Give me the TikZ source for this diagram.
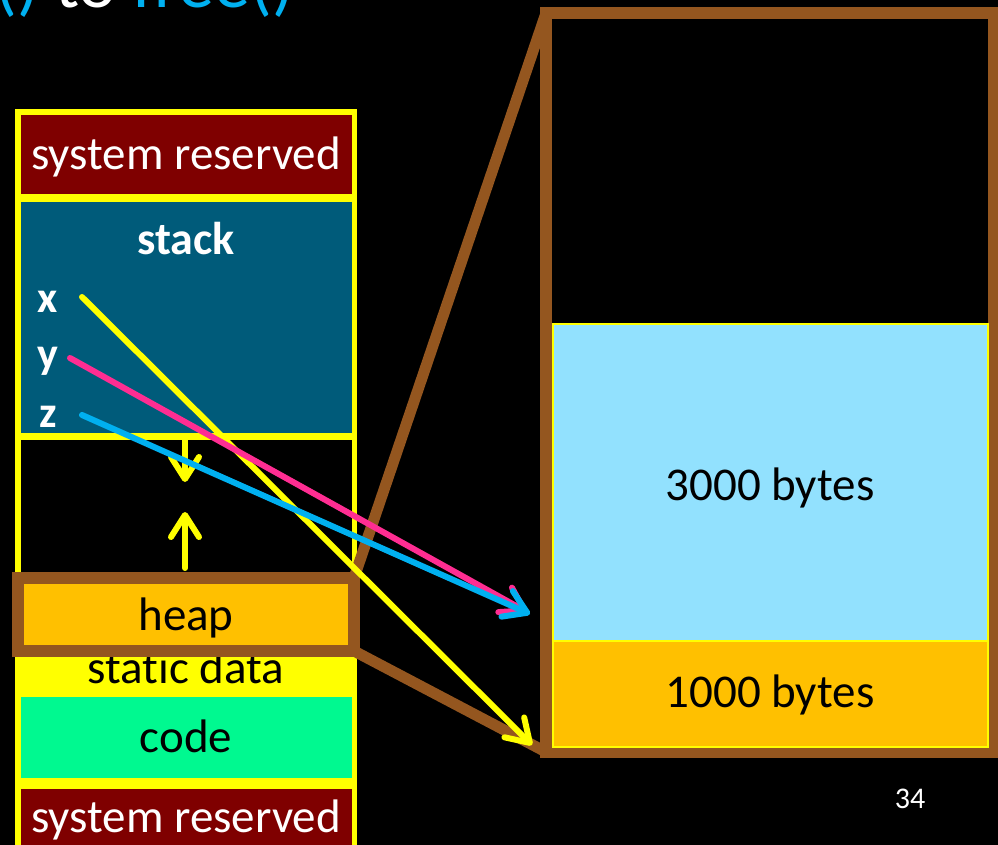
\documentclass[tikz,border=0pt]{standalone}
\usepackage{fontspec}
\setmainfont{Carlito}[Ligatures=NoCommon]
\usetikzlibrary{arrows.meta}

\definecolor{memyellow}{HTML}{FFFF00}
\definecolor{sysred}{HTML}{7F0000}
\definecolor{stackblue}{HTML}{005B7A}
\definecolor{codegreen}{HTML}{00F990}
\definecolor{heaporange}{HTML}{FFC000}
\definecolor{zoombrown}{HTML}{94561F}
\definecolor{blocklight}{HTML}{92E1FE}
\definecolor{ptrpink}{HTML}{FF2D92}
\definecolor{ptrcyan}{HTML}{00B0F0}

\tikzset{
  lbl/.style={inner sep=0pt, anchor=base, font=\fontsize{47}{56}\selectfont},
  whitelbl/.style={lbl, text=white},
  boldlbl/.style={whitelbl, font=\fontsize{46}{55}\selectfont\bfseries},
  varlbl/.style={whitelbl, font=\fontsize{44}{52}\selectfont\bfseries},
  barb/.style={-{Straight Barb[length=22pt,width=28pt,round]}, line width=6pt, line cap=round},
  framebox/.style={draw=zoombrown, line width=12pt, outer sep=0pt, inner sep=0pt},
  brownlink/.style={draw=zoombrown, line width=11pt},
}

\begin{document}
\begin{tikzpicture}[x=1pt,y=-1pt]
\useasboundingbox (0,0) rectangle (998,845);
\fill[black] (0,0) rectangle (998,845);
\clip (0,0) rectangle (998,845);

% heading, only its lower part lies inside the page
\node[inner sep=0pt, anchor=base west, font=\fontsize{72}{82}\selectfont] (heading) at (-5,8)
  {\textcolor{ptrcyan}{()} \textcolor{white}{to} \textcolor{ptrcyan}{free()}};

% ---- memory layout column ----
\fill[memyellow] (15,109) rectangle (357,860);
\fill[sysred] (21,115) rectangle (352,194);
\fill[stackblue] (21,202) rectangle (352,433);
\fill[black] (21,440) rectangle (352,590);
\fill[codegreen] (21,697) rectangle (352,778);
\fill[sysred] (21,789) rectangle (352,860);

\node[whitelbl] (sysTop) at (186,170) {system reserved};
\node[boldlbl] (stackLbl) at (186,254) {stack};
\node[varlbl] (xLbl) at (48,312) {x};
\node[varlbl] (yLbl) at (48,368) {y};
\node[varlbl] (zLbl) at (48,427) {z};
\node[lbl] (staticLbl) at (186,683) {static data};
\node[lbl] (codeLbl) at (186,752) {code};
\node[whitelbl] (sysBot) at (186,832) {system reserved};

% growth directions of stack and heap
\coordinate (stackGrowA) at (185,436);
\coordinate (stackGrowB) at (185,482);
\coordinate (heapGrowA) at (185,568);
\coordinate (heapGrowB) at (185,512);
\draw[barb, memyellow] (stackGrowA) -- (stackGrowB);
\draw[barb, memyellow] (heapGrowA) -- (heapGrowB);

% ---- enlarged heap ----
\node[framebox, minimum width=448pt, minimum height=739pt] (detail) at (770,382.5) {};
\fill[blocklight] (553,324) rectangle (988,641);
\draw[memyellow, line width=1.6pt] (553,324) rectangle (988,641);
\fill[heaporange] (553,641) rectangle (988,747);
\draw[memyellow, line width=1.6pt] (553,641) rectangle (988,747);
\node[lbl] (big) at (770,500) {3000 bytes};
\node[lbl] (small) at (770,707) {1000 bytes};

% heap in the column, with the zoom lines
\node[framebox, fill=heaporange, minimum width=336pt, minimum height=73pt] (heapbox) at (186,614.5) {};
\node[lbl] (heapLbl) at (186,630) {heap};
\draw[brownlink] (heapbox.north east) -- (detail.north west);
\draw[brownlink] (heapbox.south east) -- (detail.south west);

% ---- pointers ----
\coordinate (xStart) at (82,297);
\coordinate (xEnd) at (532,745);
\coordinate (yStart) at (70,358);
\coordinate (yEnd) at (527,612);
\coordinate (zStart) at (82,415);
\coordinate (zEnd) at (530,614);
\draw[barb, memyellow] (xStart) -- (xEnd);
\draw[barb, ptrpink] (yStart) -- (yEnd);
\draw[barb, ptrcyan] (zStart) -- (zEnd);

\node[whitelbl, font=\fontsize{30}{36}\selectfont] (pageNo) at (910,808) {34};
\end{tikzpicture}
\end{document}
